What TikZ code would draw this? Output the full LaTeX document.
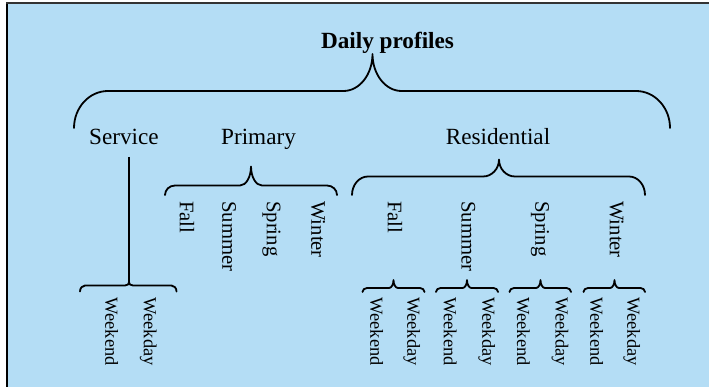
\documentclass[tikz,border=0pt]{standalone}
\usepackage{fontspec}
\setmainfont{Liberation Serif}
\definecolor{bgblue}{RGB}{180,221,245}
\newcommand\mybrace[8]{%
  \pgfmathsetmacro\brEH{#4-#5}%
  \pgfmathsetmacro\brTH{#5-#6}%
  \draw[bracestyle] (#1,#4)
    .. controls (#1,{#4-0.552*\brEH}) and ({#1+0.448*#7},#5) .. ({#1+#7},#5)
    -- ({#2-#8},#5)
    .. controls ({#2-0.448*#8},#5) and (#2,{#6+0.552*\brTH}) .. (#2,#6)
    .. controls (#2,{#6+0.552*\brTH}) and ({#2+0.448*#8},#5) .. ({#2+#8},#5)
    -- ({#3-#7},#5)
    .. controls ({#3-0.448*#7},#5) and (#3,{#4-0.552*\brEH}) .. (#3,#4);}
\tikzset{
  bracestyle/.style={draw=black, line width=1.8pt, line cap=round, line join=round},
  htext/.style={inner sep=0pt, anchor=base, font=\fontsize{23.2}{26}\selectfont},
  httitle/.style={htext, font=\fontsize{23.2}{26}\selectfont\bfseries},
  season/.style={inner sep=0pt, anchor=west, rotate=-90, font=\fontsize{20.7}{24}\selectfont},
  daytext/.style={inner sep=0pt, anchor=west, rotate=-90, font=\fontsize{18.4}{22}\selectfont},
}
\begin{document}
\begin{tikzpicture}[x=1pt,y=-1pt]
\useasboundingbox (0,0) rectangle (709,387);
% background panel
\fill[bgblue] (6,3) rectangle (709,387);
\draw[black, line width=2.4pt] (7,3) -- (7,387);
\draw[black!80, line width=1.6pt] (6,2.8) -- (709,2.8);

% texts
\node[httitle] (title) at (387.5,49) {Daily profiles};
\node[htext] (service) at (124,145) {Service};
\node[htext] (primary) at (258.5,145) {Primary};
\node[htext] (resid) at (498,145) {Residential};

% primary seasons
\node[season] (pfall) at (187,201) {Fall};
\node[season] (psummer) at (229,201) {Summer};
\node[season] (pspring) at (271.5,201) {Spring};
\node[season] (pwinter) at (318,201) {Winter};

% residential seasons
\node[season] (rfall) at (395,201) {Fall};
\node[season] (rsummer) at (468.3,201) {Summer};
\node[season] (rspring) at (540,201) {Spring};
\node[season] (rwinter) at (616.5,201) {Winter};

% weekend / weekday
\node[daytext] (swe) at (111.7,297.5) {Weekend};
\node[daytext] (swd) at (148.3,297.5) {Weekday};
\node[daytext] (fwe) at (376.7,297.5) {Weekend};
\node[daytext] (fwd) at (411.7,297.5) {Weekday};
\node[daytext] (suwe) at (450,297.5) {Weekend};
\node[daytext] (suwd) at (486.7,297.5) {Weekday};
\node[daytext] (spwe) at (523.3,297.5) {Weekend};
\node[daytext] (spwd) at (560,297.5) {Weekday};
\node[daytext] (wiwe) at (596.7,297.5) {Weekend};
\node[daytext] (wiwd) at (631.7,297.5) {Weekday};

% braces
\mybrace{74}{372.5}{670}{128}{91}{54}{34}{29}
\mybrace{165}{251}{337}{195}{185.5}{166.5}{10}{11}
\mybrace{352}{499}{645}{195}{176.5}{159.5}{16}{16}
\mybrace{80}{129}{176.5}{291.5}{285.5}{282.5}{5}{4}
\mybrace{362.5}{393.5}{424.5}{292}{288}{280}{4.5}{4.5}
\mybrace{436}{467}{498}{292}{288}{280}{4.5}{4.5}
\mybrace{509.5}{540.5}{571}{292}{288}{280}{4.5}{4.5}
\mybrace{583.5}{614.5}{645}{292}{288}{280}{4.5}{4.5}

% service connector
\coordinate (sTop) at (129,157);
\coordinate (sTip) at (129,283);
\draw[bracestyle, line cap=butt] (sTop) -- (sTip);
\end{tikzpicture}
\end{document}
